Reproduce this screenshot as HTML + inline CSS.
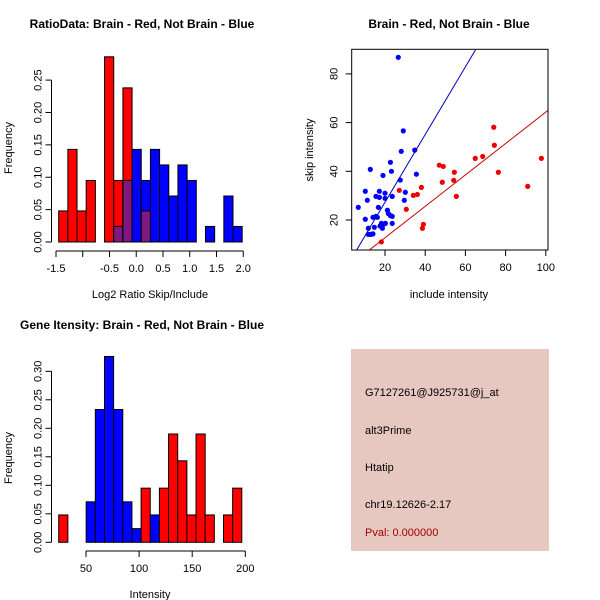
<!DOCTYPE html>
<html><head><meta charset="utf-8"><style>
body{margin:0;background:#fff}
svg{display:block;font-family:"Liberation Sans",sans-serif}
</style></head><body>
<svg id="c" width="600" height="600" viewBox="0 0 600 600">
<rect x="351" y="349" width="198" height="202" fill="#e6c8c1"/>
<text x="365" y="396" font-size="11">G7127261@J925731@j_at</text>
<text x="365" y="434" font-size="11">alt3Prime</text>
<text x="365" y="471" font-size="11">Htatip</text>
<text x="365" y="508" font-size="11">chr19.12626-2.17</text>
<text x="365" y="536" font-size="11" fill="#a00000">Pval: 0.000000</text>
</svg>
<script>
// ---- Ratio histogram data ----
const ratioBinStart = -1.45, ratioBinWidth = 0.1715;
const ratioRed  = [0.048,0.143,0.048,0.095,0,0.286,0.095,0.238,0,0.048,0,0,0,0,0,0,0,0,0,0];
const ratioBlue = [0,0,0,0,0,0,0.024,0.095,0.143,0.095,0.143,0.119,0.071,0.119,0.095,0,0.024,0,0.071,0.024];
const ratioXTicks = [-1.5,-1.0,-0.5,0.0,0.5,1.0,1.5,2.0];
const ratioXLabels = ["-1.5","","-0.5","0.0","0.5","1.0","1.5","2.0"];
const ratioYTicks = [0,0.05,0.10,0.15,0.20,0.25];
const ratioYLabels = ["0.00","0.05","0.10","0.15","0.20","0.25"];
// ---- Intensity histogram data ----
const intBinStart = 24.3, intBinWidth = 8.62;
const intRed  = [0.048,0,0,0,0,0,0,0,0,0.095,0,0.095,0.19,0.143,0.048,0.19,0.048,0,0.048,0.095];
const intBlue = [0,0,0,0.071,0.233,0.326,0.233,0.071,0.024,0,0.048,0,0,0,0,0,0,0,0,0];
const intXTicks = [50,100,150,200];
const intYTicks = [0,0.05,0.10,0.15,0.20,0.25,0.30];
const intYLabels = ["0.00","0.05","0.10","0.15","0.20","0.25","0.30"];
// ---- Scatter data ----
const blueX=[26.6,29.1,28.1,34.8,12.7,22.7,23.2,19.0,27.6,35.6,10.2,17.2,20,30.1,11.2,15.5,17.2,20,23.6,6.7,16.7,29.6,21.2,21.7,22.7,23.6,14.0,15.5,16.2,10.2,18.2,19.2,20.2,23.6,11.7,14.7,18.7,11.7,13.0,14.0,17.5];
const blueY=[86.8,56.6,48.2,48.7,40.8,43.7,40.0,38.3,36.4,38.8,31.8,31.8,31.0,31.4,28.1,29.7,29.3,28.9,29.7,25.2,25.2,28.1,24.0,22.6,21.8,21.5,21.1,21.5,21.1,20.3,18.6,18.2,18.6,18.6,16.6,17.0,16.6,14.1,14.1,14.3,17.5];
const redX=[74.1,74.4,64.9,68.6,97.8,47.0,49.0,54.5,76.4,48.5,54.2,38.1,27.1,91.0,36.1,34.1,55.5,30.6,39.1,38.6,18.2];
const redY=[58.1,50.7,45.3,46.1,45.3,42.5,42.0,39.6,39.6,35.5,36.3,33.4,32.2,33.8,30.5,30.1,29.7,24.4,18.2,16.6,11.0];
const blueFit=[1.39,-0.5];   // slope, intercept
const redFit=[0.645,-0.2];
const scXTicks=[20,40,60,80,100];
const scYTicks=[20,40,60,80];

const svg=document.getElementById('c');
const NS='http://www.w3.org/2000/svg';
function mk(tag,attrs,parent){const e=document.createElementNS(NS,tag);for(const k in attrs)e.setAttribute(k,attrs[k]);(parent||svg).appendChild(e);return e;}
function txt(s,x,y,size,anchor,rot,weight){const t=mk('text',{x:x,y:y,'font-size':size,'text-anchor':anchor||'middle'});if(rot)t.setAttribute('transform','rotate(-90 '+x+' '+y+')');if(weight)t.setAttribute('font-weight',weight);t.textContent=s;return t;}

function hist(o){
  const g=mk('g',{});
  
  
  const xs=v=>o.x0+(v-o.v0)*o.kx, ys=v=>o.y0-v*o.ky;
  for(let i=0;i<o.red.length;i++){
    const a=xs(o.bs+i*o.bw), b=xs(o.bs+(i+1)*o.bw), r=o.red[i], bl=o.blue[i];
    if(r>0){const e=mk('rect',{x:a,y:ys(r),width:b-a,height:ys(0)-ys(r),fill:'#ff0000',stroke:'#000','stroke-width':1},g);
      }
    if(bl>0){const e=mk('rect',{x:a,y:ys(bl),width:b-a,height:ys(0)-ys(bl),fill:'#0000ff',stroke:'#000','stroke-width':1},g);
      }
    const m=Math.min(r,bl);
    if(m>0){const e=mk('rect',{x:a,y:ys(m),width:b-a,height:ys(0)-ys(m),fill:'#80187f',stroke:'#000','stroke-width':1},g);
      }
  }
  const xa=mk('g',{stroke:'#000','stroke-width':1},g);
  
  mk('line',{x1:xs(o.xt[0]),x2:xs(o.xt[o.xt.length-1]),y1:o.ax,y2:o.ax},xa);
  o.xt.forEach((v,i)=>{mk('line',{x1:xs(v),x2:xs(v),y1:o.ax,y2:o.ax+6},xa);
    const t=txt(o.xl[i],xs(v),o.ax+21,11);});
  const ya=mk('g',{stroke:'#000','stroke-width':1},g);
  
  mk('line',{x1:o.ay,x2:o.ay,y1:ys(o.yt[0]),y2:ys(o.yt[o.yt.length-1])},ya);
  o.yt.forEach((v,i)=>{mk('line',{x1:o.ay,x2:o.ay-6,y1:ys(v),y2:ys(v)},ya);
    const t=txt(o.yl[i],o.ay-10,ys(v),11,'middle',true);});
}
hist({name:'ratio-histogram',red:ratioRed,blue:ratioBlue,bs:ratioBinStart,bw:ratioBinWidth,x0:56,v0:-1.5,kx:53.5,y0:242,ky:647.6,
  xt:ratioXTicks,xl:ratioXLabels,yt:ratioYTicks,yl:ratioYLabels,ax:251,ay:51.5});
hist({name:'intensity-histogram',red:intRed,blue:intBlue,bs:intBinStart,bw:intBinWidth,x0:86,v0:50,kx:1.062,y0:542.3,ky:570,
  xt:intXTicks,xl:intXTicks.map(String),yt:intYTicks,yl:intYLabels,ax:551,ay:51.5});

let t;
t=txt('RatioData: Brain - Red, Not Brain - Blue',142,28,12,'middle',false,'bold');
t=txt('Log2 Ratio Skip/Include',150,298,11);
t=txt('Frequency',12,148,11,'middle',true);
t=txt('Gene Itensity: Brain - Red, Not Brain - Blue',142,329,12,'middle',false,'bold');
t=txt('Intensity',150,598,11);
t=txt('Frequency',12,458,11,'middle',true);

// scatter
const L=351.7,R=548,T=49.3,B=250;
const sx=v=>385+(v-20)*2.01, sy=v=>220-(v-20)*2.435;
const sg=mk('g',{});

const cp=mk('clipPath',{id:'clip'},sg);mk('rect',{x:L,y:T,width:R-L,height:B-T},cp);
function fit(f,col,name){
  const vL=20+(L-385)/2.01, vR=20+(R-385)/2.01;
  const l=mk('line',{x1:sx(vL),y1:sy(f[0]*vL+f[1]),x2:sx(vR),y2:sy(f[0]*vR+f[1]),stroke:col,'stroke-width':1,'clip-path':'url(#clip)'},sg);
  }
blueX.forEach((v,i)=>{const c=mk('circle',{cx:sx(v),cy:sy(blueY[i]),r:2.6,fill:'#0000ff'},sg);
  });
redX.forEach((v,i)=>{const c=mk('circle',{cx:sx(v),cy:sy(redY[i]),r:2.6,fill:'#ee0000'},sg);
  });
fit(blueFit,'#0000bb','blue-fit-line');
fit(redFit,'#cc0000','red-fit-line');
const bx=mk('rect',{x:L,y:T,width:R-L,height:B-T,fill:'none',stroke:'#000','stroke-width':1},sg);

scXTicks.forEach(v=>{mk('line',{x1:sx(v),x2:sx(v),y1:B,y2:B+6,stroke:'#000'},sg);
  const q=txt(String(v),sx(v),B+21,11);});
scYTicks.forEach(v=>{mk('line',{x1:L,x2:L-6,y1:sy(v),y2:sy(v),stroke:'#000'},sg);
  const q=txt(String(v),L-14,sy(v),11,'middle',true);});
t=txt('Brain - Red, Not Brain - Blue',449,28,12,'middle',false,'bold');
t=txt('include intensity',449,298,11);
t=txt('skip intensity',313,150,11,'middle',true);
</script>
</body></html>
